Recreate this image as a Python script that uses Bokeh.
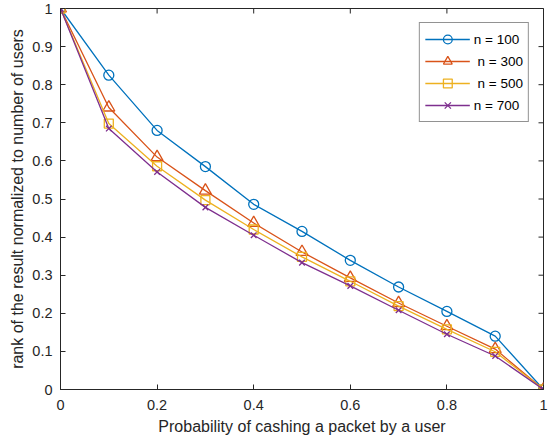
import math
from bokeh.plotting import figure
from bokeh.models import FixedTicker, Range1d, Legend, LegendItem
from bokeh.embed import file_html
from bokeh.resources import INLINE

p_cache = [0.0, 0.1, 0.2, 0.3, 0.4, 0.5, 0.6, 0.7, 0.8, 0.9, 1.0]
n100 = [1.0, 0.825, 0.68, 0.585, 0.486, 0.415, 0.339, 0.269, 0.205, 0.14, 0.0]
n300 = [1.0, 0.74, 0.61, 0.522, 0.437, 0.361, 0.293, 0.227, 0.166, 0.106, 0.0]
n500 = [1.0, 0.698, 0.586, 0.497, 0.42, 0.348, 0.284, 0.219, 0.158, 0.099, 0.0]
n700 = [1.0, 0.685, 0.571, 0.478, 0.405, 0.333, 0.272, 0.208, 0.145, 0.088, 0.0]
series_labels = ["n = 100", "\u00a0n = 300", "\u00a0n = 500", "n = 700"]
xticks = [0, 0.2, 0.4, 0.6, 0.8, 1]
xtick_labels = ["0", "0.2", "0.4", "0.6", "0.8", "1"]
yticks = [0, 0.1, 0.2, 0.3, 0.4, 0.5, 0.6, 0.7, 0.8, 0.9, 1]
ytick_labels = ["0", "0.1", "0.2", "0.3", "0.4", "0.5", "0.6", "0.7", "0.8", "0.9", "1"]

FONT = "Liberation Sans"
TXT = "#262626"

p = figure(width=553, height=443, output_backend="svg", toolbar_location=None,
           x_range=Range1d(0, 1), y_range=Range1d(0, 1),
           min_border_left=60, min_border_right=10, min_border_top=8, min_border_bottom=54)
p.grid.visible = False
p.outline_line_color = TXT
p.outline_line_width = 1

def style_axis(ax, ticks, labels):
    ax.ticker = FixedTicker(ticks=ticks)
    ax.axis_line_color = TXT
    ax.major_tick_line_color = TXT
    ax.major_tick_in = 5
    ax.major_tick_out = 0
    ax.minor_tick_line_color = None
    ax.major_label_text_font = FONT
    ax.major_label_text_color = TXT
    ax.major_label_text_font_size = "14.5px"
    ax.axis_label_text_font = FONT
    ax.axis_label_text_color = TXT
    ax.axis_label_text_font_size = "16px"
    ax.axis_label_text_font_style = "normal"
    ax.major_label_overrides = {t: l for t, l in zip(ticks, labels)}

style_axis(p.xaxis[0], xticks, xtick_labels)
style_axis(p.yaxis[0], yticks, ytick_labels)
p.xaxis[0].axis_label = "Probability of cashing a packet by a user"
p.yaxis[0].axis_label = "rank of the result normalized to number of users"
p.xaxis[0].major_label_standoff = 10
p.yaxis[0].major_label_standoff = 8
p.xaxis[0].axis_label_standoff = 5
p.yaxis[0].axis_label_standoff = 3

# inward ticks on the right and top edges of the box (half of each dash is clipped by the frame)
p.scatter([1] * len(yticks), yticks, marker="dash", size=10, line_color=TXT, line_width=1)
p.scatter(xticks, [1] * len(xticks), marker="dash", size=10, angle=math.pi / 2,
          line_color=TXT, line_width=1)

colors = ["#0072BD", "#D95319", "#EDB120", "#7E2F8E"]
items = []
for ys, col, lab, mk, sz in zip([n100, n300, n500, n700], colors, series_labels,
                                ["circle", "triangle", "square", "x"], [10, 12, 9, 8]):
    r1 = p.line(p_cache, ys, line_color=col, line_width=1.3)
    r2 = p.scatter(p_cache, ys, marker=mk, size=sz, line_color=col, fill_color=None, line_width=1.3)
    items.append(LegendItem(label=lab, renderers=[r1, r2]))

legend = Legend(items=items, location="top_right")
legend.label_text_font = FONT
legend.label_text_font_size = "13.5px"
legend.label_text_color = "#000000"
legend.glyph_width = 45
legend.glyph_height = 22
legend.label_height = 18
legend.spacing = -4
legend.padding = 5
legend.margin = 14
legend.label_standoff = 4
legend.border_line_color = TXT
legend.border_line_width = 1
legend.background_fill_color = "white"
p.add_layout(legend)

open("out.html", "w").write(file_html(p, INLINE))
